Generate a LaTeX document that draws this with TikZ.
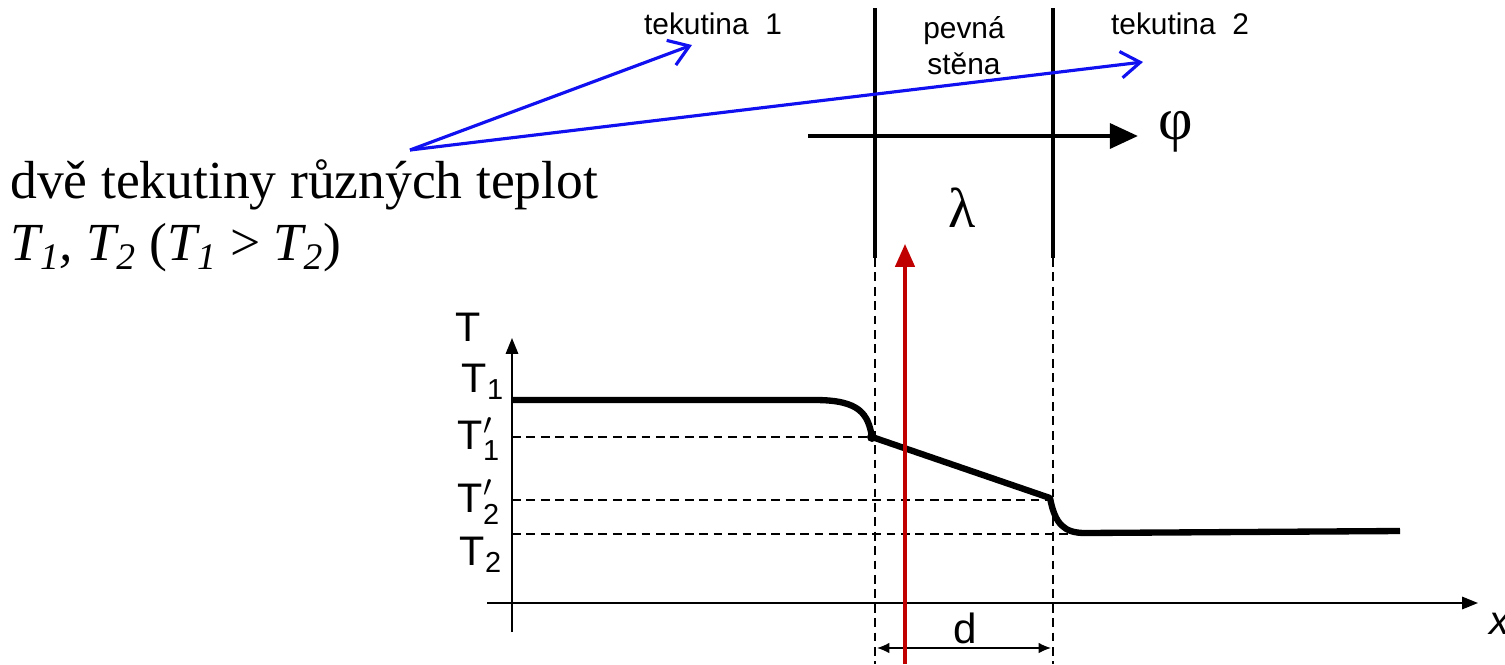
\documentclass[tikz,border=0pt]{standalone}
\usepackage{amsmath}
\usepackage{fontspec}
\setmainfont{Liberation Sans}
\newfontfamily\serifface{Liberation Serif}
\usepackage{xcolor}
\definecolor{fluxred}{HTML}{C00000}
\definecolor{pointblue}{HTML}{1010F0}
\usetikzlibrary{arrows.meta,positioning,calc}

\begin{document}
\begin{tikzpicture}[
      x={(0.02cm,0)}, y={(0,-0.02cm)},
      wall/.style={line width=2.7pt},
      axis/.style={line width=1.1pt, -{Triangle[length=9pt,width=7pt]}},
      guide/.style={line width=1.4pt, dash pattern=on 5pt off 3.2pt},
      profile/.style={line width=3.6pt, line join=round},
      pointer/.style={draw=pointblue, line width=1.8pt, -{Straight Barb[length=11pt,width=15pt,line width=1.8pt]}},
      lbl/.style={inner sep=0pt, font=\fontsize{17}{19}\selectfont},
      tlbl/.style={inner sep=0pt, font=\fontsize{23.5}{26}\selectfont}
    ]
    \useasboundingbox (0,0) rectangle (1505,664);

    % wall and heat flux
    \coordinate (w1top) at (875,8);
    \coordinate (w1bot) at (875,258);
    \coordinate (w2top) at (1053,8);
    \coordinate (w2bot) at (1053,258);
    \draw[wall] (w1top) -- (w1bot);
    \draw[wall] (w2top) -- (w2bot);
    \coordinate (fluxstart) at (808,136);
    \coordinate (fluxend) at (1138,136);
    \draw[wall, -{Triangle[length=16pt,width=14pt]}] (fluxstart) -- (fluxend);
    \node[inner sep=0pt, font=\serifface\fontsize{34}{36}\selectfont] (phi) at (1176,132) {φ};
    \node[inner sep=0pt, font=\serifface\fontsize{32}{34}\selectfont] (lambda) at (962,208) {λ};
    \node[lbl, align=center, font=\fontsize{17}{20.5}\selectfont] (solid) at (964,46) {pevná\\stěna};
    \node[lbl] (fluid1) at (713,24) {tekutina\ \ 1};
    \node[lbl] (fluid2) at (1180,24) {tekutina\ \ 2};

    % left description
    \node[inner sep=0pt, anchor=base west, font=\serifface\fontsize{30.5}{35}\selectfont] (desc) at (10,198) {dvě tekutiny různých teplot};
    \node[inner sep=0pt, anchor=base west, font=\serifface\fontsize{30.5}{35}\selectfont\itshape] (desc2) at (10,260)
      {T\textsubscript{1}, T\textsubscript{2} \textup{(}T\textsubscript{1} \textup{>} T\textsubscript{2}\textup{)}};
    \coordinate (src) at (410,150);
    \coordinate (tip1) at (692,45);
    \coordinate (tip2) at (1143,62);
    \draw[pointer] (src) -- (tip1);
    \draw[pointer] (src) -- (tip2);

    % axes
    \coordinate (origin) at (512,603);
    \coordinate (ytop) at (512,338);
    \coordinate (ybot) at (512,632);
    \coordinate (xleft) at (487,603);
    \coordinate (xright) at (1478,603);
    \draw[axis] (ybot) -- (ytop);
    \draw[axis] (xleft) -- (xright);
    \node[tlbl] (Tax) at (468,327) {T};
    \node[inner sep=0pt, font=\fontsize{23}{25}\selectfont\itshape] (xax) at (1500,624) {x};
    \node[tlbl] (T1) at (483,382) {T\textsubscript{1}};
    \node[tlbl] (T1p) at (479,439) {T$_{\text{1}}^{\prime}$};
    \node[tlbl] (T2p) at (479,502) {T$_{\text{2}}^{\prime}$};
    \node[tlbl] (T2) at (481,555) {T\textsubscript{2}};

    % temperature profile
    \coordinate (p0) at (512,400);
    \coordinate (p1) at (815,400);
    \coordinate (s1) at (872,437);
    \coordinate (s2) at (1050,498);
    \coordinate (p2) at (1085,533);
    \coordinate (p3) at (1400,531);
    \draw[guide] (512,437) -- (s1);
    \draw[guide] (512,500) -- (1053,500);
    \draw[guide] (512,534) -- (1085,534);
    \draw[guide] (w1bot) -- (875,664);
    \draw[guide] (w2bot) -- (1053,664);
    \draw[profile] (p0) -- (p1) .. controls (860,400) and (868,414) .. (s1)
      -- (s2) .. controls (1055,524) and (1064,533) .. (p2) -- (p3);
    \fill (s1) circle (5);

    % thickness
    \coordinate (dl) at (877,648);
    \coordinate (dr) at (1051,648);
    \draw[line width=0.8pt, {Latex[length=7pt,width=6pt]}-{Latex[length=7pt,width=6pt]}] (dl) -- (dr);
    \node[inner sep=0pt, font=\fontsize{24}{26}\selectfont] (dlabel) at (965,628) {d};

    % red arrow
    \coordinate (rbot) at (905,664);
    \coordinate (rtop) at (905,244);
    \draw[fluxred, line width=1.9pt, -{Triangle[length=13pt,width=11pt]}] (rbot) -- (rtop);
\end{tikzpicture}
\end{document}
